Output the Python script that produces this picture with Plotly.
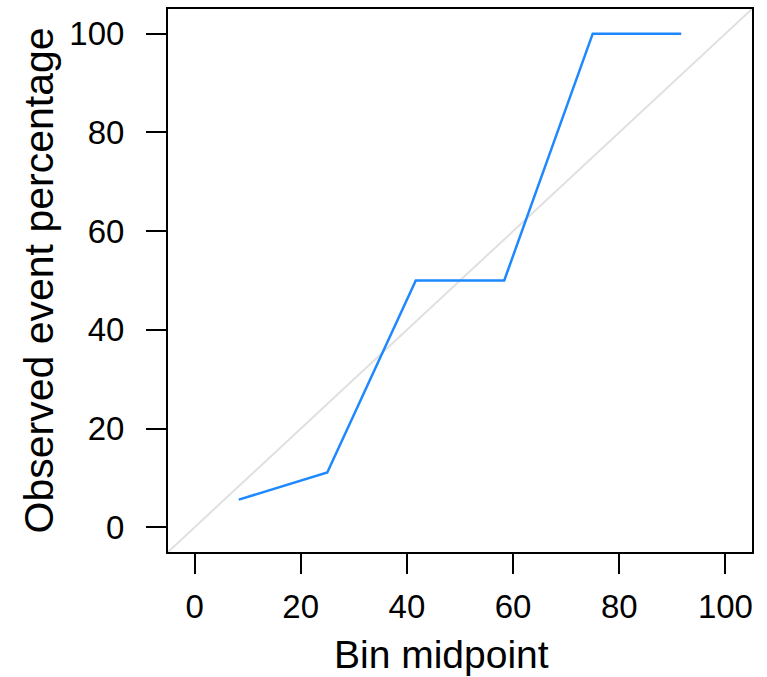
import plotly.graph_objects as go

bin_mid = [8.33, 25.0, 41.67, 58.33, 75.0, 91.67]
observed = [5.6, 11.1, 50.0, 50.0, 100.0, 100.0]
diag = [-5, 105]
tick_vals = [0, 20, 40, 60, 80, 100]
x_title = "Bin midpoint"
y_title = "Observed event percentage"

fig = go.Figure()
fig.add_trace(go.Scatter(x=diag, y=diag, mode="lines",
                         line=dict(color="#e0e0e0", width=2), hoverinfo="skip"))
fig.add_trace(go.Scatter(x=bin_mid, y=observed, mode="lines",
                         line=dict(color="#1e88ff", width=2.5)))

axis_common = dict(
    showline=True, linecolor="black", linewidth=2, mirror=True,
    ticks="outside", ticklen=20, tickwidth=2, tickcolor="black",
    showgrid=False, zeroline=False, tickvals=tick_vals,
    tickfont=dict(family="Liberation Sans", size=33, color="black"),
    range=[-5, 105],
)

fig.update_layout(
    width=767, height=677,
    margin=dict(l=168, r=15, t=7, b=125),
    paper_bgcolor="white", plot_bgcolor="white",
    showlegend=False,
    font=dict(family="Liberation Sans", color="black"),
    xaxis=dict(axis_common, ticklabelstandoff=4),
    yaxis=dict(axis_common, ticklabelstandoff=15),
    annotations=[
        dict(text=x_title, xref="paper", yref="paper", x=0.4675, y=-0.189,
             xanchor="center", yanchor="middle", showarrow=False,
             font=dict(size=39, family="Liberation Sans", color="black")),
        dict(text=y_title, xref="paper", yref="paper", x=-0.221, y=0.5,
             xanchor="center", yanchor="middle", showarrow=False, textangle=-90,
             font=dict(size=41, family="Liberation Sans", color="black")),
    ],
)

fig.write_html("out.html")
